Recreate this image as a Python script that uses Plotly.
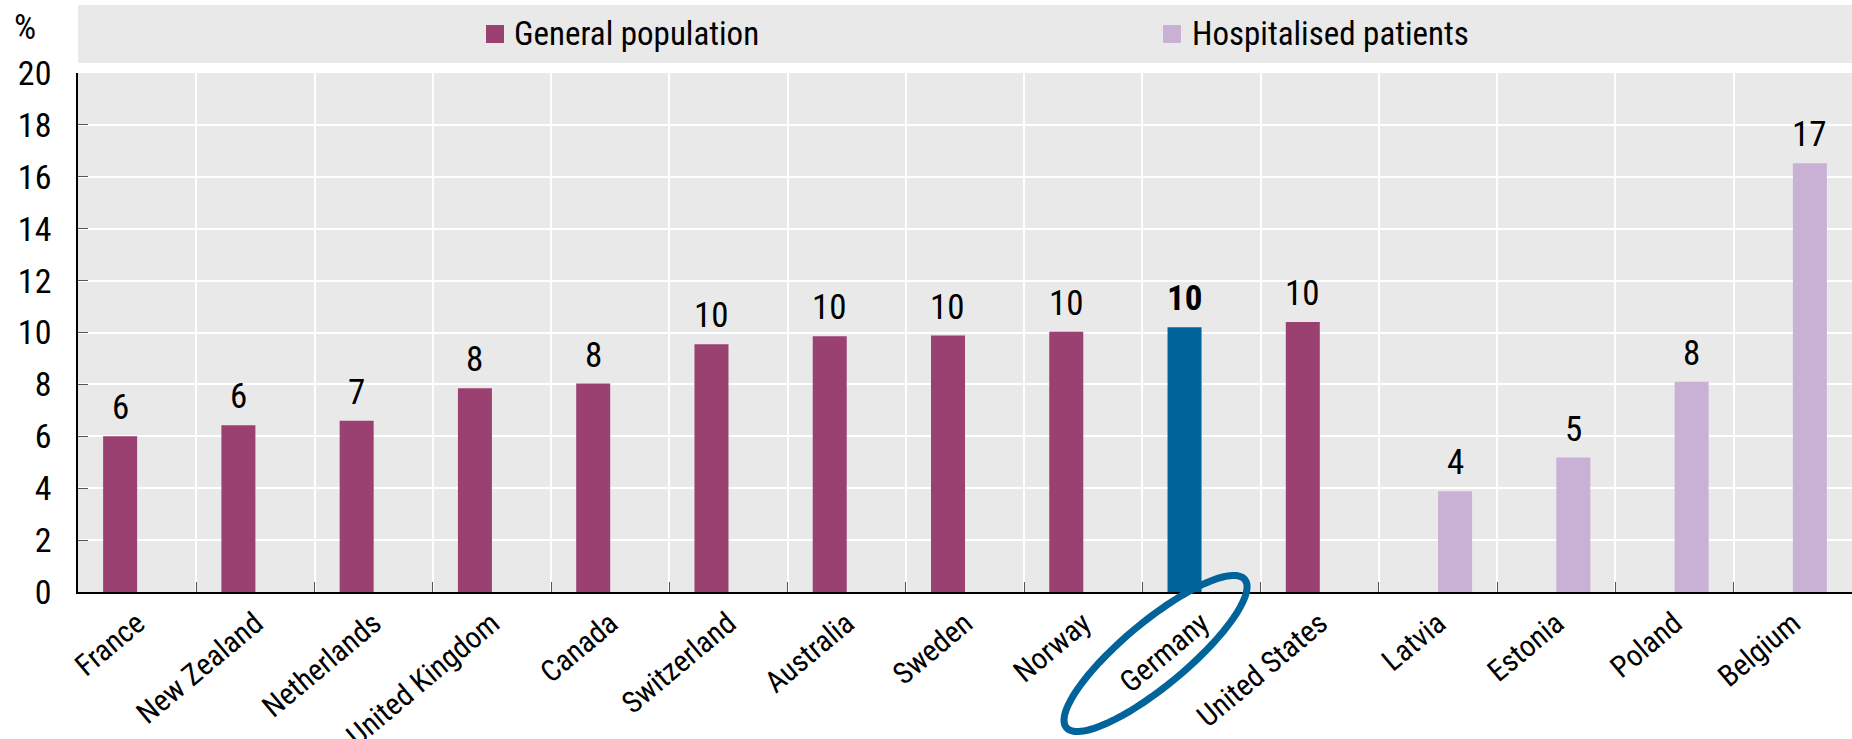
import math
import plotly.graph_objects as go

# ---- data -------------------------------------------------------------
countries = ["France", "New Zealand", "Netherlands", "United Kingdom", "Canada",
             "Switzerland", "Australia", "Sweden", "Norway", "Germany",
             "United States", "Latvia", "Estonia", "Poland", "Belgium"]
general_countries = countries[:11]
general_values = [6.0, 6.43, 6.6, 7.85, 8.03, 9.55, 9.86, 9.88, 10.03, 10.2, 10.4]
hospital_countries = countries[11:]
hospital_values = [3.88, 5.18, 8.1, 16.52]
highlight = "Germany"

y_ticks = list(range(0, 21, 2))

# ---- styling ----------------------------------------------------------
FONT = "Liberation Sans Narrow, Arial Narrow, Roboto Condensed, DejaVu Sans Condensed, sans-serif"
C_GEN = "#9a4171"
C_HOSP = "#c8b1d5"
C_HI = "#00639a"
BG = "#e9e9e9"

W, H = 1852, 739
L, R, T, B = 78, 0, 73, 147
PW, PH = W - L - R, H - T - B
BAR_W = 0.2875


def px_to_paper(px, py):
    return (px - L) / PW, (H - B - py) / PH


def label(v):
    return str(int(math.floor(v + 0.5)))


gen_colors = [C_HI if c == highlight else C_GEN for c in general_countries]

fig = go.Figure()
fig.add_trace(go.Bar(
    x=general_countries, y=general_values, name="General population",
    marker=dict(color=gen_colors, line=dict(width=0)),
    width=BAR_W, offset=-BAR_W, showlegend=False, hoverinfo="x+y",
))
fig.add_trace(go.Bar(
    x=hospital_countries, y=hospital_values, name="Hospitalised patients",
    marker=dict(color=C_HOSP, line=dict(width=0)),
    width=BAR_W, offset=0, showlegend=False, hoverinfo="x+y",
))

annotations = []
shapes = []

# value labels above bars
cat_px = PW / len(countries)
bar_shift = BAR_W * cat_px / 2
for c, v in zip(general_countries, general_values):
    txt = label(v)
    if c == highlight:
        txt = f"<b>{txt}</b>"
    annotations.append(dict(x=c, y=v, xref="x", yref="y", text=txt, showarrow=False,
                            xanchor="center", yanchor="bottom", xshift=-bar_shift, yshift=6,
                            font=dict(family=FONT, size=35, color="#000")))
for c, v in zip(hospital_countries, hospital_values):
    annotations.append(dict(x=c, y=v, xref="x", yref="y", text=label(v), showarrow=False,
                            xanchor="center", yanchor="bottom", xshift=bar_shift, yshift=6,
                            font=dict(family=FONT, size=35, color="#000")))

# legend band across the top
y0p = px_to_paper(0, 63)[1]
y1p = px_to_paper(0, 5)[1]
shapes.append(dict(type="rect", xref="paper", yref="paper", x0=0, x1=1, y0=y0p, y1=y1p,
                   fillcolor=BG, line=dict(width=0), layer="below"))
for sq_x, txt_x, color, name in [(486, 512, C_GEN, "General population"),
                                  (1163, 1190, C_HOSP, "Hospitalised patients")]:
    ax0, ay0 = px_to_paper(sq_x, 43)
    ax1, ay1 = px_to_paper(sq_x + 18, 25)
    shapes.append(dict(type="rect", xref="paper", yref="paper", x0=ax0, x1=ax1, y0=ay0, y1=ay1,
                       fillcolor=color, line=dict(width=0)))
    tx, ty = px_to_paper(txt_x, 34)
    annotations.append(dict(x=tx, y=ty, xref="paper", yref="paper", text=name, showarrow=False,
                            xanchor="left", yanchor="middle",
                            font=dict(family=FONT, size=33, color="#000")))

# unit label
ux, uy = px_to_paper(25, 27)
annotations.append(dict(x=ux, y=uy, xref="paper", yref="paper", text="%", showarrow=False,
                        xanchor="center", yanchor="middle",
                        font=dict(family=FONT, size=35, color="#000")))

# ellipse around the highlighted country's label
hi_idx = countries.index(highlight)
cx = L + (hi_idx + 0.5) * cat_px - 46
cy = 653.5
a, b, th = 116, 32, math.radians(39.7)
pts = []
for k in range(73):
    t = 2 * math.pi * k / 72
    ex = cx + a * math.cos(t) * math.cos(th) - b * math.sin(t) * math.sin(th)
    ey = cy - (a * math.cos(t) * math.sin(th) + b * math.sin(t) * math.cos(th))
    pts.append(px_to_paper(ex, ey))
path = "M " + " L ".join(f"{p[0]:.5f},{p[1]:.5f}" for p in pts) + " Z"
shapes.append(dict(type="path", xref="paper", yref="paper", path=path,
                   line=dict(color=C_HI, width=7), fillcolor="rgba(0,0,0,0)"))

fig.update_layout(
    template="none",
    width=W, height=H,
    margin=dict(l=L, r=R, t=T, b=B, pad=0, autoexpand=False),
    paper_bgcolor="white", plot_bgcolor=BG,
    barmode="overlay",
    font=dict(family=FONT, color="#000"),
    annotations=annotations, shapes=shapes,
    xaxis=dict(
        type="category", categoryorder="array", categoryarray=countries,
        range=[-0.5, len(countries) - 0.5], automargin=False,
        tickson="boundaries", ticks="inside", ticklen=10, tickcolor="#555", tickwidth=1,
        showgrid=True, gridcolor="white", gridwidth=1.5,
        showline=True, linecolor="#000", linewidth=2,
        tickangle=-40, tickfont=dict(family=FONT, size=30, color="#000"),
        fixedrange=True,
    ),
    yaxis=dict(
        range=[0, 20], tickvals=y_ticks, ticktext=[str(t) for t in y_ticks],
        automargin=False,
        ticks="inside", ticklen=10, tickcolor="#555", tickwidth=1,
        showgrid=True, gridcolor="white", gridwidth=1.5, zeroline=False,
        showline=True, linecolor="#000", linewidth=1.5,
        tickfont=dict(family=FONT, size=34, color="#000"), ticklabelstandoff=18,
        fixedrange=True,
    ),
    showlegend=False,
)

fig.write_html("out.html", config={"displayModeBar": False})
